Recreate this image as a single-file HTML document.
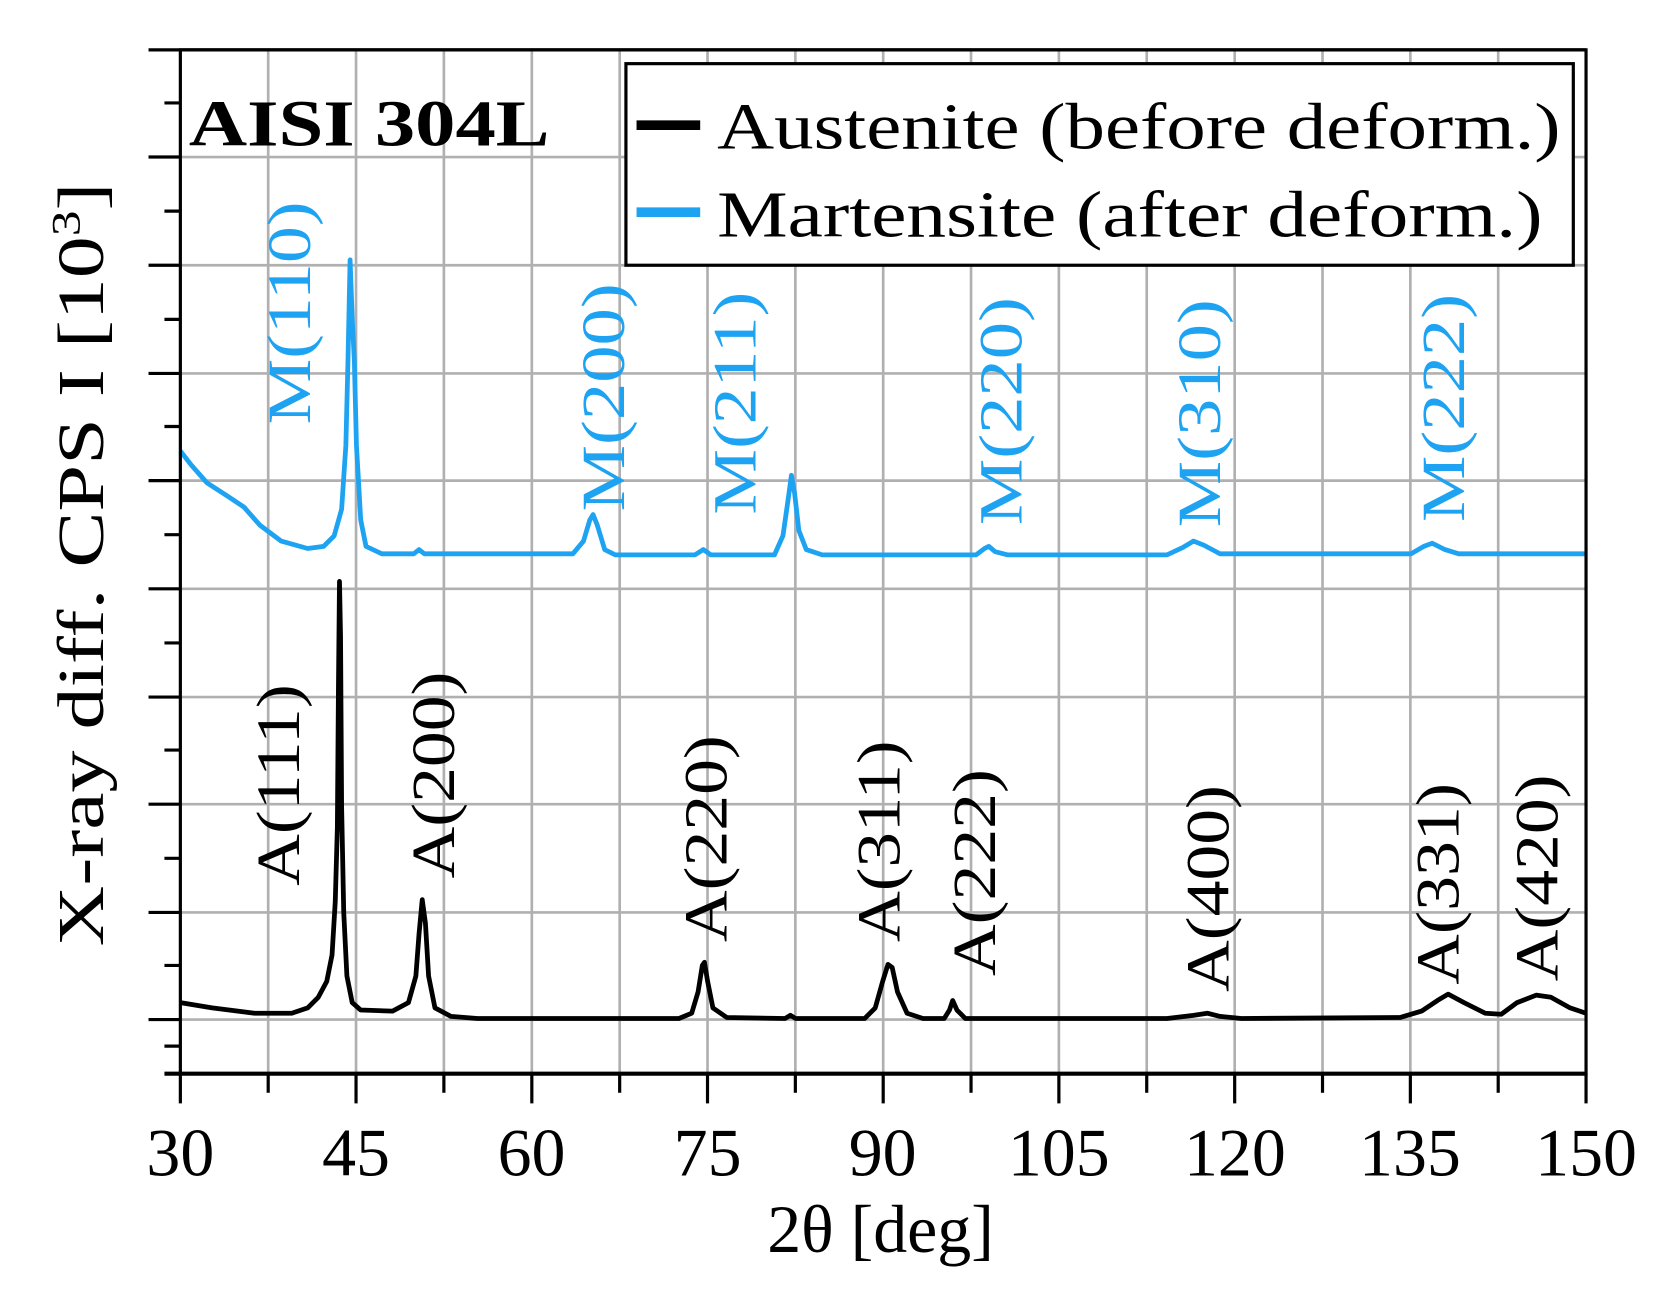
<!DOCTYPE html>
<html><head><meta charset="utf-8"><style>html,body{margin:0;padding:0;background:#fff}svg{display:block}</style></head>
<body>
<svg width="1655" height="1295" viewBox="0 0 1560 1220.6" preserveAspectRatio="none" xmlns="http://www.w3.org/2000/svg" font-family="'Liberation Serif',serif">
<g stroke="#b0b0b0" stroke-width="2.5">
<line x1="252.8" y1="47" x2="252.8" y2="1012"/><line x1="335.6" y1="47" x2="335.6" y2="1012"/><line x1="418.4" y1="47" x2="418.4" y2="1012"/><line x1="501.3" y1="47" x2="501.3" y2="1012"/><line x1="584.1" y1="47" x2="584.1" y2="1012"/><line x1="666.9" y1="47" x2="666.9" y2="1012"/><line x1="749.7" y1="47" x2="749.7" y2="1012"/><line x1="832.5" y1="47" x2="832.5" y2="1012"/><line x1="915.3" y1="47" x2="915.3" y2="1012"/><line x1="998.1" y1="47" x2="998.1" y2="1012"/><line x1="1080.9" y1="47" x2="1080.9" y2="1012"/><line x1="1163.8" y1="47" x2="1163.8" y2="1012"/><line x1="1246.6" y1="47" x2="1246.6" y2="1012"/><line x1="1329.4" y1="47" x2="1329.4" y2="1012"/><line x1="1412.2" y1="47" x2="1412.2" y2="1012"/>
<line x1="170" y1="148" x2="1495" y2="148"/><line x1="170" y1="250" x2="1495" y2="250"/><line x1="170" y1="352" x2="1495" y2="352"/><line x1="170" y1="453" x2="1495" y2="453"/><line x1="170" y1="555" x2="1495" y2="555"/><line x1="170" y1="657" x2="1495" y2="657"/><line x1="170" y1="758" x2="1495" y2="758"/><line x1="170" y1="860" x2="1495" y2="860"/><line x1="170" y1="961" x2="1495" y2="961"/>
</g>
<g stroke="#000" stroke-width="3">
<line x1="170" y1="1012" x2="170" y2="1040"/><line x1="252.8" y1="1012" x2="252.8" y2="1030"/><line x1="335.6" y1="1012" x2="335.6" y2="1040"/><line x1="418.4" y1="1012" x2="418.4" y2="1030"/><line x1="501.3" y1="1012" x2="501.3" y2="1040"/><line x1="584.1" y1="1012" x2="584.1" y2="1030"/><line x1="666.9" y1="1012" x2="666.9" y2="1040"/><line x1="749.7" y1="1012" x2="749.7" y2="1030"/><line x1="832.5" y1="1012" x2="832.5" y2="1040"/><line x1="915.3" y1="1012" x2="915.3" y2="1030"/><line x1="998.1" y1="1012" x2="998.1" y2="1040"/><line x1="1080.9" y1="1012" x2="1080.9" y2="1030"/><line x1="1163.8" y1="1012" x2="1163.8" y2="1040"/><line x1="1246.6" y1="1012" x2="1246.6" y2="1030"/><line x1="1329.4" y1="1012" x2="1329.4" y2="1040"/><line x1="1412.2" y1="1012" x2="1412.2" y2="1030"/><line x1="1495" y1="1012" x2="1495" y2="1040"/>
<line x1="140" y1="148" x2="170" y2="148"/><line x1="140" y1="250" x2="170" y2="250"/><line x1="140" y1="352" x2="170" y2="352"/><line x1="140" y1="453" x2="170" y2="453"/><line x1="140" y1="555" x2="170" y2="555"/><line x1="140" y1="657" x2="170" y2="657"/><line x1="140" y1="758" x2="170" y2="758"/><line x1="140" y1="860" x2="170" y2="860"/><line x1="140" y1="961" x2="170" y2="961"/>
<line x1="155" y1="97" x2="170" y2="97"/><line x1="155" y1="199" x2="170" y2="199"/><line x1="155" y1="301" x2="170" y2="301"/><line x1="155" y1="402" x2="170" y2="402"/><line x1="155" y1="504" x2="170" y2="504"/><line x1="155" y1="606" x2="170" y2="606"/><line x1="155" y1="707" x2="170" y2="707"/><line x1="155" y1="809" x2="170" y2="809"/><line x1="155" y1="910" x2="170" y2="910"/><line x1="155" y1="986" x2="170" y2="986"/>
</g>
<path fill="none" stroke="#1ea3f2" stroke-width="4.5" stroke-linejoin="round" d="M170,425 L180,438 L195,455 L215,468 L230,478 L245,495 L265,510 L290,517 L305,515 L315,505 L322,480 L326,420 L328,340 L330,245 L332,300 L334,340 L336,420 L340,490 L345,515 L360,522 L390,522 L395,518 L400,522 L540,522 L550,510 L556,490 L559,485 L563,495 L570,518 L580,523 L655,523 L663,518 L670,523 L730,523 L738,505 L743,470 L746,448 L749,465 L753,500 L760,518 L775,523 L920,523 L928,517 L932,515 L938,520 L950,523 L1100,523 L1115,516 L1125,510 L1135,514 L1150,522 L1330,522 L1342,515 L1350,512 L1362,518 L1375,522 L1495,522"/>
<path fill="none" stroke="#000" stroke-width="4.5" stroke-linejoin="round" d="M170,945 L200,950 L240,955 L275,955 L290,950 L300,940 L308,925 L313,900 L316,850 L318,780 L319,650 L320,548 L321,600 L322,760 L324,860 L327,920 L332,945 L340,952 L370,953 L385,945 L392,920 L395,880 L398,848 L401,870 L404,920 L410,950 L425,958 L450,960 L640,960 L652,955 L658,935 L662,910 L664,907 L667,925 L672,950 L685,959 L740,960 L745,957 L750,960 L815,960 L825,950 L832,925 L837,909 L841,912 L846,935 L855,955 L870,960 L890,960 L895,952 L898,943 L902,952 L910,960 L1100,960 L1125,957 L1138,955 L1150,958 L1170,960 L1320,959 L1340,953 L1355,943 L1365,937 L1380,945 L1400,955 L1415,956 L1430,945 L1448,938 L1462,940 L1480,950 L1495,955"/>
<rect x="170" y="47" width="1325" height="965" fill="none" stroke="#000" stroke-width="3"/>
<line x1="140" y1="47" x2="1495" y2="47" stroke="#000" stroke-width="3"/>
<line x1="155" y1="1012" x2="1495" y2="1012" stroke="#000" stroke-width="4"/>
<text x="178" y="137" font-size="62" font-weight="bold" textLength="340" lengthAdjust="spacingAndGlyphs">AISI 304L</text>
<rect x="590" y="60" width="893" height="190" fill="#fff" stroke="#000" stroke-width="3"/>
<line x1="600" y1="118" x2="660" y2="118" stroke="#000" stroke-width="9"/>
<line x1="600" y1="200" x2="660" y2="200" stroke="#1ea3f2" stroke-width="9"/>
<text x="676" y="140" font-size="62" textLength="795" lengthAdjust="spacingAndGlyphs">Austenite (before deform.)</text>
<text x="676" y="223" font-size="62" textLength="778" lengthAdjust="spacingAndGlyphs">Martensite (after deform.)</text>
<text transform="translate(97,532) rotate(-90)" font-size="62" text-anchor="middle" textLength="720" lengthAdjust="spacingAndGlyphs">X-ray diff.  CPS I [10<tspan dy="-22" font-size="38">3</tspan><tspan dy="22">]</tspan></text>
<g font-size="64" text-anchor="middle">
<text x="170" y="1108">30</text><text x="335.6" y="1108">45</text><text x="501" y="1108">60</text><text x="667" y="1108">75</text><text x="832" y="1108">90</text><text x="998" y="1108">105</text><text x="1164" y="1108">120</text><text x="1329" y="1108">135</text><text x="1495" y="1108">150</text>
<text x="830" y="1180">2θ [deg]</text>
</g>
<g font-size="58">
<text transform="translate(282,835) rotate(-90)" textLength="190" lengthAdjust="spacingAndGlyphs">A(111)</text>
<text transform="translate(428,828) rotate(-90)" textLength="195" lengthAdjust="spacingAndGlyphs">A(200)</text>
<text transform="translate(685,888) rotate(-90)" textLength="195" lengthAdjust="spacingAndGlyphs">A(220)</text>
<text transform="translate(848,888) rotate(-90)" textLength="190" lengthAdjust="spacingAndGlyphs">A(311)</text>
<text transform="translate(938,920) rotate(-90)" textLength="195" lengthAdjust="spacingAndGlyphs">A(222)</text>
<text transform="translate(1158,935) rotate(-90)" textLength="195" lengthAdjust="spacingAndGlyphs">A(400)</text>
<text transform="translate(1375,928) rotate(-90)" textLength="190" lengthAdjust="spacingAndGlyphs">A(331)</text>
<text transform="translate(1468,925) rotate(-90)" textLength="195" lengthAdjust="spacingAndGlyphs">A(420)</text>
<g fill="#1ea3f2">
<text transform="translate(292,400) rotate(-90)" textLength="210" lengthAdjust="spacingAndGlyphs">M(110)</text>
<text transform="translate(588,482) rotate(-90)" textLength="215" lengthAdjust="spacingAndGlyphs">M(200)</text>
<text transform="translate(712,485) rotate(-90)" textLength="210" lengthAdjust="spacingAndGlyphs">M(211)</text>
<text transform="translate(963,495) rotate(-90)" textLength="215" lengthAdjust="spacingAndGlyphs">M(220)</text>
<text transform="translate(1150,497) rotate(-90)" textLength="215" lengthAdjust="spacingAndGlyphs">M(310)</text>
<text transform="translate(1380,492) rotate(-90)" textLength="215" lengthAdjust="spacingAndGlyphs">M(222)</text>
</g>
</g>
</svg>
</body></html>
